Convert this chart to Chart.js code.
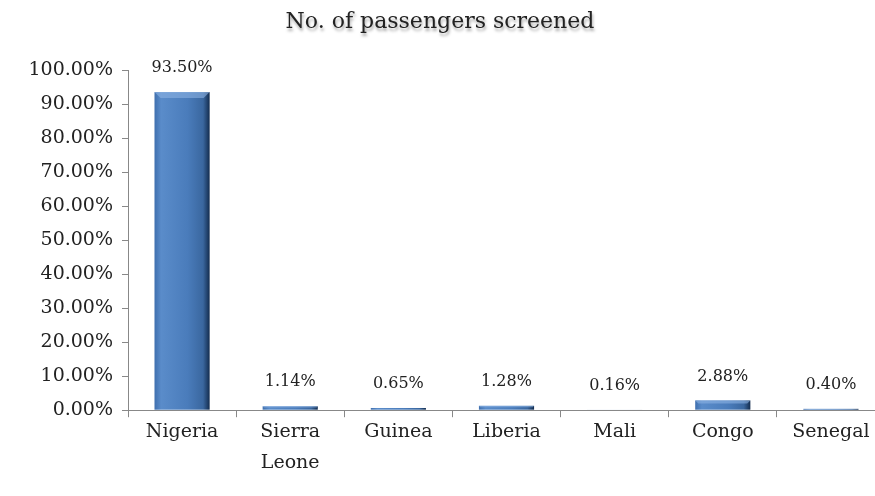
<!DOCTYPE html>
<html>
<head>
<meta charset="utf-8">
<script src="https://cdn.jsdelivr.net/npm/chart.js@4/dist/chart.umd.min.js"></script>
<style>
  html, body { margin: 0; padding: 0; background: #fff; overflow: hidden; }
  #wrap { width: 885px; height: 496px; }
</style>
</head>
<body>
<div id="wrap"><canvas id="chart"></canvas></div>
<script>
// data
const countries = [["Nigeria"], ["Sierra", "Leone"], ["Guinea"], ["Liberia"], ["Mali"], ["Congo"], ["Senegal"]];
const screenedPct = [93.5, 1.14, 0.65, 1.28, 0.16, 2.88, 0.4];
const titleText = "No. of passengers screened";

const SERIF = "'DejaVu Serif', 'Liberation Serif', serif";

// bevelled (office 3D-ish) bar look + value labels + shadowed title
const barLook = {
  id: "barLook",
  afterDatasetsDraw(chart) {
    const ctx = chart.ctx;
    const meta = chart.getDatasetMeta(0);
    meta.data.forEach((bar, i) => {
      const { x, y, base, width } = bar.getProps(["x", "y", "base", "width"], true);
      const l = x - width / 2, r = x + width / 2;
      const h = base - y;
      ctx.save();
      const g = ctx.createLinearGradient(l, 0, r, 0);
      g.addColorStop(0, "#3f6fae");
      g.addColorStop(0.12, "#5a8cca");
      g.addColorStop(0.6, "#4a7cbb");
      g.addColorStop(0.88, "#3a679f");
      g.addColorStop(1, "#132c4e");
      ctx.fillStyle = g;
      ctx.fillRect(l, y, width, h);
      const bev = Math.min(6, h / 3);
      if (bev > 1) {
        ctx.fillStyle = "rgba(140,178,226,0.6)";
        ctx.beginPath();
        ctx.moveTo(l, y);
        ctx.lineTo(r, y);
        ctx.lineTo(r - bev, y + bev);
        ctx.lineTo(l + bev, y + bev);
        ctx.closePath();
        ctx.fill();
      }
      ctx.restore();

      ctx.save();
      ctx.fillStyle = "#222";
      ctx.font = "16px " + SERIF;
      ctx.textAlign = "center";
      ctx.textBaseline = "middle";
      ctx.fillText(screenedPct[i].toFixed(2) + "%", x, y - 24);
      ctx.restore();
    });
  },
  afterDraw(chart) {
    const tb = chart.titleBlock;
    const ctx = chart.ctx;
    ctx.save();
    ctx.font = "22px " + SERIF;
    ctx.textAlign = "center";
    ctx.textBaseline = "middle";
    ctx.shadowColor = "rgba(0,0,0,0.35)";
    ctx.shadowBlur = 3;
    ctx.shadowOffsetX = 1;
    ctx.shadowOffsetY = 3;
    ctx.fillStyle = "#222";
    ctx.fillText(titleText, 440, tb.top + 4 + 12);
    ctx.restore();
  },
};

new Chart(document.getElementById("chart").getContext("2d"), {
  type: "bar",
  data: {
    labels: countries,
    datasets: [
      {
        data: screenedPct,
        backgroundColor: "rgba(0,0,0,0)",
        borderWidth: 0,
        categoryPercentage: 1,
        barPercentage: 0.51,
      },
    ],
  },
  options: {
    responsive: true,
    maintainAspectRatio: false,
    animation: false,
    layout: { padding: { top: 6, left: 0, right: 0, bottom: 18 } },
    plugins: {
      legend: { display: false },
      tooltip: { enabled: false },
      title: {
        display: true,
        text: titleText,
        color: "rgba(0,0,0,0)",
        font: { family: SERIF, size: 20, weight: "normal" },
        padding: { top: 4, bottom: 36 },
      },
    },
    scales: {
      x: {
        offset: true,
        border: { color: "#888", width: 1 },
        grid: { offset: true, drawOnChartArea: false, tickLength: 7, color: "#888" },
        ticks: { color: "#222", font: { family: SERIF, size: 19, lineHeight: 1.6 }, padding: 0, maxRotation: 0 },
      },
      y: {
        min: 0,
        max: 100,
        border: { color: "#888", width: 1 },
        grid: { drawOnChartArea: false, tickLength: 6, color: "#888" },
        afterFit: (scale) => { scale.width = 128; },
        ticks: {
          stepSize: 10,
          color: "#222",
          font: { family: SERIF, size: 19 },
          padding: 9,
          callback: (v) => v.toFixed(2) + "%",
        },
      },
    },
  },
  plugins: [barLook],
});
</script>
</body>
</html>
